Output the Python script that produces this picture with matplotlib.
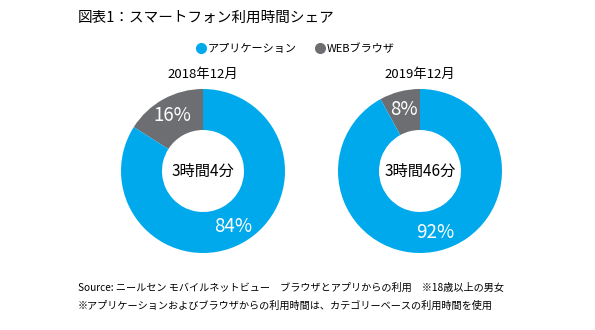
import matplotlib.pyplot as plt
from matplotlib.lines import Line2D

plt.rcParams['font.family'] = ['Noto Sans CJK JP', 'DejaVu Sans']

TITLE = "図表1：スマートフォン利用時間シェア"
SERIES = ["WEBブラウザ", "アプリケーション"]
COLORS = ["#6D6E71", "#00A9EB"]
PERIODS = ["2018年12月", "2019年12月"]
TOTAL_TIME = ["3時間4分", "3時間46分"]
WEB_SHARE = [16, 8]
APP_SHARE = [84, 92]
NOTES = [
    "Source: ニールセン モバイルネットビュー　ブラウザとアプリからの利用　※18歳以上の男女",
    "※アプリケーションおよびブラウザからの利用時間は、カテゴリーベースの利用時間を使用",
]

W, H = 595, 330
fig = plt.figure(figsize=(W / 100, H / 100), dpi=100, facecolor="white")
ax = fig.add_axes([0, 0, 1, 1])

centers = [(203, H - 171), (420, H - 171)]
for i, (cx, cy) in enumerate(centers):
    wedges, texts, autotexts = ax.pie(
        [WEB_SHARE[i], APP_SHARE[i]], colors=COLORS, startangle=90,
        counterclock=True, radius=82, center=(cx, cy),
        wedgeprops=dict(width=41, linewidth=0),
        autopct="%.0f%%", pctdistance=0.77,
        textprops=dict(color="white", fontsize=13.5), frame=True)
    ax.text(cx, cy, TOTAL_TIME[i], ha="center", va="center", fontsize=11)
    ax.text(cx, H - 74, PERIODS[i], ha="center", va="center", fontsize=9.5)

ax.set_xlim(0, W)
ax.set_ylim(0, H)
ax.set_aspect("equal")
ax.axis("off")

ax.text(78, H - 18, TITLE, ha="left", va="center", fontsize=10.5)

handles = [Line2D([], [], marker="o", linestyle="none", markersize=8,
                  markerfacecolor=COLORS[1], markeredgewidth=0, label=SERIES[1]),
           Line2D([], [], marker="o", linestyle="none", markersize=8,
                  markerfacecolor=COLORS[0], markeredgewidth=0, label=SERIES[0])]
fig.legend(handles=handles, loc="center", bbox_to_anchor=(295 / W, 1 - 49 / H),
           ncol=2, frameon=False, fontsize=8, handletextpad=0.1,
           columnspacing=1.6, handlelength=1.0)

for j, note in enumerate(NOTES):
    ax.text(78, H - 288 - 18 * j, note, ha="left", va="center", fontsize=7.3)

fig.savefig("out.png", dpi=100, facecolor="white")
